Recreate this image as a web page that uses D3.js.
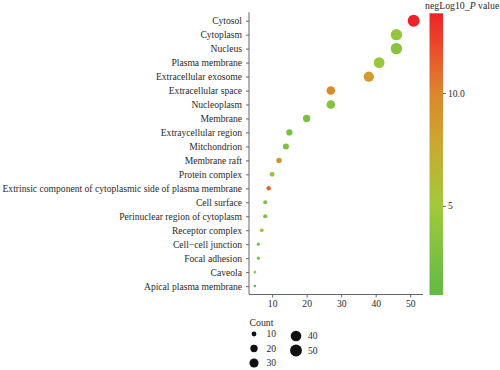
<!DOCTYPE html>
<html>
<head>
<meta charset="utf-8">
<script src="https://cdn.jsdelivr.net/npm/d3@7"></script>
<style>
body { margin: 0; background: #fff; }
svg text { font-family: "Liberation Serif", "Times New Roman", "DejaVu Serif", serif; fill: #2a2a2a; }
</style>
</head>
<body>
<svg id="dot-plot"></svg>
<script>
// GO cellular component terms, top to bottom
var categories = ["Cytosol", "Cytoplasm", "Nucleus", "Plasma membrane", "Extracellular exosome",
    "Extracellular space", "Nucleoplasm", "Membrane", "Extraycellular region", "Mitchondrion",
    "Membrane raft", "Protein complex", "Extrinsic component of cytoplasmic side of plasma membrane",
    "Cell surface", "Perinuclear region of cytoplasm", "Receptor complex", "Cell\u2212cell junction",
    "Focal adhesion", "Caveola", "Apical plasma membrane"];
var counts = [51, 46, 46, 41, 38, 27, 27, 20, 15, 14, 12, 10, 9, 8, 8, 7, 6, 6, 5, 5];
var negLogP = [13.53, 4.2, 3.5, 4.6, 8.6, 9.8, 3.3, 2.8, 2.5, 2.8, 9.1, 4.2, 11.0, 2.5, 2.7, 4.2, 2.5, 2.5, 4.0, 1.05];
var xTicks = [10, 20, 30, 40, 50];
var colorTicks = [5, 10];
var sizeLegend = [10, 20, 30, 40, 50];

var width = 500, height = 370;
var svg = d3.select("#dot-plot")
    .attr("width", width)
    .attr("height", height);

var plotLeft = 249, plotRight = 423, plotTop = 12.3, plotBottom = 294.5;

var xScale = d3.scaleLinear()
    .domain([3.3, 53.7])
    .range([plotLeft, plotRight]);
var yScale = d3.scalePoint()
    .domain(categories)
    .range([plotTop, plotBottom])
    .padding(0.6);

// area grows linearly with count, plus a thin outline (ggplot style)
var area = d3.scaleLinear().domain([5, 51]).range([1, 36]);
var radius = function(c) { return 0.94 * Math.sqrt(area(c)) + 0.36; };

var colorStops = [1.05, 3, 5, 6.6, 7.9, 10, 11.9, 13.53];
var colorRange = ["#62b946", "#80c140", "#a2c93a", "#bab632", "#cca62e", "#dc862c", "#e8502a", "#ee2229"];
var color = d3.scaleLinear().domain(colorStops).range(colorRange);

var rows = categories.map(function(c, i) {
    return { term: c, count: counts[i], p: negLogP[i] };
});

// axes
var xAxis = svg.append("g")
    .attr("transform", "translate(0," + plotBottom + ")")
    .call(d3.axisBottom(xScale).tickValues(xTicks).tickSize(3).tickPadding(3));
var yAxis = svg.append("g")
    .attr("transform", "translate(" + plotLeft + ",0)")
    .call(d3.axisLeft(yScale).tickSize(3).tickPadding(4));

[xAxis, yAxis].forEach(function(a) {
    a.attr("font-family", null);
    a.select(".domain").attr("stroke", "#666").attr("stroke-width", 1);
    a.selectAll(".tick line").attr("stroke", "#666");
    a.selectAll("text").attr("font-size", 9.6).attr("fill", "#2a2a2a");
});
xAxis.select(".domain").attr("d", "M" + plotLeft + ",0H" + plotRight);
yAxis.select(".domain").attr("d", "M0," + plotTop + "V" + plotBottom);

// points
svg.append("g")
    .selectAll("circle")
    .data(rows)
    .enter()
    .append("circle")
    .attr("cx", function(d) { return xScale(d.count); })
    .attr("cy", function(d) { return yScale(d.term); })
    .attr("r", function(d) { return radius(d.count); })
    .attr("fill", function(d) { return color(d.p); });

// color bar
var barX = 429.5, barW = 13.5;
var cScale = d3.scaleLinear().domain([1.05, 13.53]).range([295, 13.3]);
var grad = svg.append("defs").append("linearGradient")
    .attr("id", "cbar")
    .attr("x1", 0).attr("y1", 1).attr("x2", 0).attr("y2", 0);
grad.selectAll("stop")
    .data(colorStops)
    .enter()
    .append("stop")
    .attr("offset", function(v) { return (v - 1.05) / (13.53 - 1.05); })
    .attr("stop-color", function(v) { return color(v); });
svg.append("rect")
    .attr("x", barX).attr("y", cScale(13.53))
    .attr("width", barW).attr("height", cScale(1.05) - cScale(13.53))
    .attr("fill", "url(#cbar)");

var cAxis = svg.append("g")
    .attr("transform", "translate(" + (barX + barW) + ",0)")
    .call(d3.axisRight(cScale).tickValues(colorTicks).tickSize(3).tickPadding(2)
        .tickFormat(function(v) { return v == 10 ? "10.0" : v; }));
cAxis.attr("font-family", null);
cAxis.select(".domain").remove();
cAxis.selectAll(".tick line").attr("stroke", "#666");
cAxis.selectAll("text").attr("font-size", 9.6).attr("fill", "#2a2a2a");

var ctitle = svg.append("text")
    .attr("x", 425).attr("y", 8.5)
    .attr("font-size", 9.8);
ctitle.append("tspan").text("negLog10_");
ctitle.append("tspan").attr("font-style", "italic").text("P");
ctitle.append("tspan").text(" value");

// size legend
svg.append("text")
    .attr("x", 249.5).attr("y", 325.5)
    .attr("font-size", 9.8)
    .text("Count");

var legendPos = function(i) {
    return { x: i < 3 ? 254 : 296, y: i < 3 ? 334 + i * 14.5 : 336 + (i - 3) * 14.5 };
};
var sizeKeys = svg.append("g")
    .selectAll("g")
    .data(sizeLegend)
    .enter()
    .append("g")
    .attr("transform", function(d, i) {
        var p = legendPos(i);
        return "translate(" + p.x + "," + p.y + ")";
    });
sizeKeys.append("circle")
    .attr("r", function(d) { return radius(d); })
    .attr("fill", "#111");
sizeKeys.append("text")
    .attr("x", function(d, i) { return i < 3 ? 12.5 : 12; })
    .attr("dy", "0.35em")
    .attr("font-size", 9.6)
    .text(function(d) { return d; });
</script>
</body>
</html>
